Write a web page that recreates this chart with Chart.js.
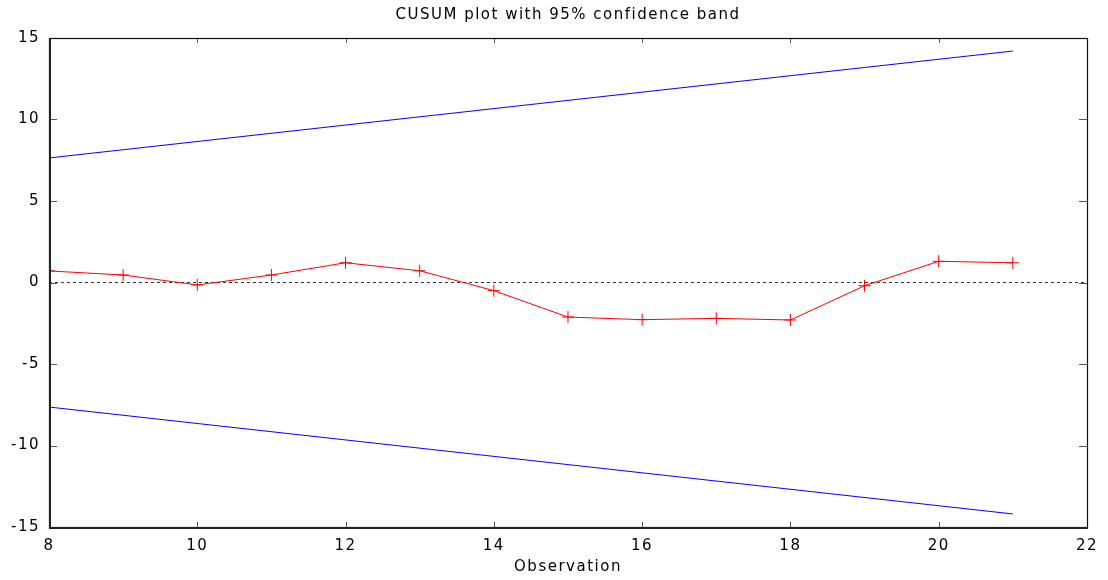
<!DOCTYPE html>
<html>
<head>
<meta charset="utf-8">
<script src="https://cdn.jsdelivr.net/npm/chart.js@4"></script>
<style>
  html, body { margin: 0; padding: 0; background: #fff; }
  #wrap { width: 1108px; height: 580px; }
</style>
</head>
<body>
<div id="wrap"><canvas id="cusumChart"></canvas></div>
<script>
const observations = [8, 9, 10, 11, 12, 13, 14, 15, 16, 17, 18, 19, 20, 21];
const cusumValues = [0.71, 0.46, -0.15, 0.46, 1.21, 0.72, -0.5, -2.12, -2.28, -2.2, -2.3, -0.2, 1.3, 1.21];
const bandX = [8, 21];
const bandUpper = [7.64, 14.2];
const bandLower = [-7.64, -14.2];
const zeroX = [8, 22];
const xTicks = [8, 10, 12, 14, 16, 18, 20, 22];
const yTicks = [-15, -10, -5, 0, 5, 10, 15];

const FONT = "'DejaVu Sans', sans-serif";
const LETTER_SPACING = "1.5px";

function toPoints(xs, ys) {
  return xs.map((x, i) => ({ x: x, y: ys[i] }));
}

// the reference text is set wider than plain DejaVu, so spread the letters a bit
const spacingPlugin = {
  id: "spacing",
  beforeLayout(chart) {
    chart.ctx.letterSpacing = LETTER_SPACING;
  },
  beforeDraw(chart) {
    chart.ctx.letterSpacing = LETTER_SPACING;
  },
};

// gnuplot-style frame with inward ticks on all four sides
const framePlugin = {
  id: "frame",
  afterDatasetsDraw(chart) {
    const { ctx, chartArea: a, scales } = chart;
    const left = Math.round(a.left);
    const right = Math.round(a.right);
    const top = Math.round(a.top);
    const bottom = Math.round(a.bottom);
    ctx.save();
    ctx.strokeStyle = "#555";
    ctx.lineWidth = 1;
    xTicks.forEach((v) => {
      const px = Math.round(scales.x.getPixelForValue(v)) + 0.5;
      ctx.beginPath();
      ctx.moveTo(px, bottom);
      ctx.lineTo(px, bottom - 5);
      ctx.moveTo(px, top);
      ctx.lineTo(px, top + 5);
      ctx.stroke();
    });
    yTicks.forEach((v) => {
      const py = Math.round(scales.y.getPixelForValue(v)) + 0.5;
      ctx.beginPath();
      ctx.moveTo(left, py);
      ctx.lineTo(left + 8, py);
      ctx.moveTo(right, py);
      ctx.lineTo(right - 8, py);
      ctx.stroke();
    });
    ctx.strokeStyle = "#111";
    ctx.lineWidth = 1.2;
    ctx.strokeRect(left + 0.5, top + 0.5, right - left, bottom - top);
    ctx.strokeStyle = "#222";
    ctx.lineWidth = 2;
    ctx.beginPath();
    ctx.moveTo(left + 1, top);
    ctx.lineTo(left + 1, bottom + 1);
    ctx.moveTo(left, bottom + 1);
    ctx.lineTo(right + 1, bottom + 1);
    ctx.stroke();
    ctx.restore();
  },
};

new Chart(document.getElementById("cusumChart"), {
  type: "scatter",
  data: {
    datasets: [
      {
        label: "CUSUM",
        data: toPoints(observations, cusumValues),
        showLine: true,
        borderColor: "#ff0000",
        backgroundColor: "#ff0000",
        borderWidth: 1,
        pointStyle: "cross",
        pointRadius: 6,
        pointBorderWidth: 1,
        tension: 0,
        order: 1,
      },
      {
        label: "Upper band",
        data: toPoints(bandX, bandUpper),
        showLine: true,
        borderColor: "#0000ff",
        borderWidth: 1,
        pointRadius: 0,
        order: 2,
      },
      {
        label: "Lower band",
        data: toPoints(bandX, bandLower),
        showLine: true,
        borderColor: "#0000ff",
        borderWidth: 1,
        pointRadius: 0,
        order: 2,
      },
      {
        label: "Zero",
        data: toPoints(zeroX, [0, 0]),
        showLine: true,
        borderColor: "#333",
        borderWidth: 1,
        borderDash: [3, 3],
        pointRadius: 0,
        order: 3,
      },
    ],
  },
  options: {
    animation: false,
    responsive: true,
    maintainAspectRatio: false,
    layout: { padding: { left: 0, right: 20, top: 0, bottom: 0 } },
    plugins: {
      legend: { display: false },
      tooltip: { enabled: false },
      title: {
        display: true,
        fullSize: false,
        text: "CUSUM plot with 95% confidence band",
        color: "#000",
        font: { family: FONT, size: 15, weight: "normal", lineHeight: 1.2 },
        padding: { top: 6, bottom: 14 },
      },
    },
    scales: {
      x: {
        type: "linear",
        min: 8,
        max: 22,
        afterBuildTicks(axis) {
          axis.ticks = xTicks.map((v) => ({ value: v }));
        },
        afterFit(axis) {
          axis.height = 53;
        },
        grid: { display: false, drawTicks: false },
        border: { display: false },
        ticks: {
          color: "#000",
          padding: 10,
          maxRotation: 0,
          font: { family: FONT, size: 15 },
        },
        title: {
          display: true,
          text: "Observation",
          color: "#000",
          font: { family: FONT, size: 15, lineHeight: 1.2 },
          padding: { top: 0, bottom: 4 },
        },
      },
      y: {
        type: "linear",
        min: -15,
        max: 15,
        afterBuildTicks(axis) {
          axis.ticks = yTicks.map((v) => ({ value: v }));
        },
        afterFit(axis) {
          axis.width = 49;
        },
        grid: { display: false, drawTicks: false },
        border: { display: false },
        ticks: {
          color: "#000",
          padding: 9,
          font: { family: FONT, size: 15 },
        },
      },
    },
  },
  plugins: [spacingPlugin, framePlugin],
});
</script>
</body>
</html>
